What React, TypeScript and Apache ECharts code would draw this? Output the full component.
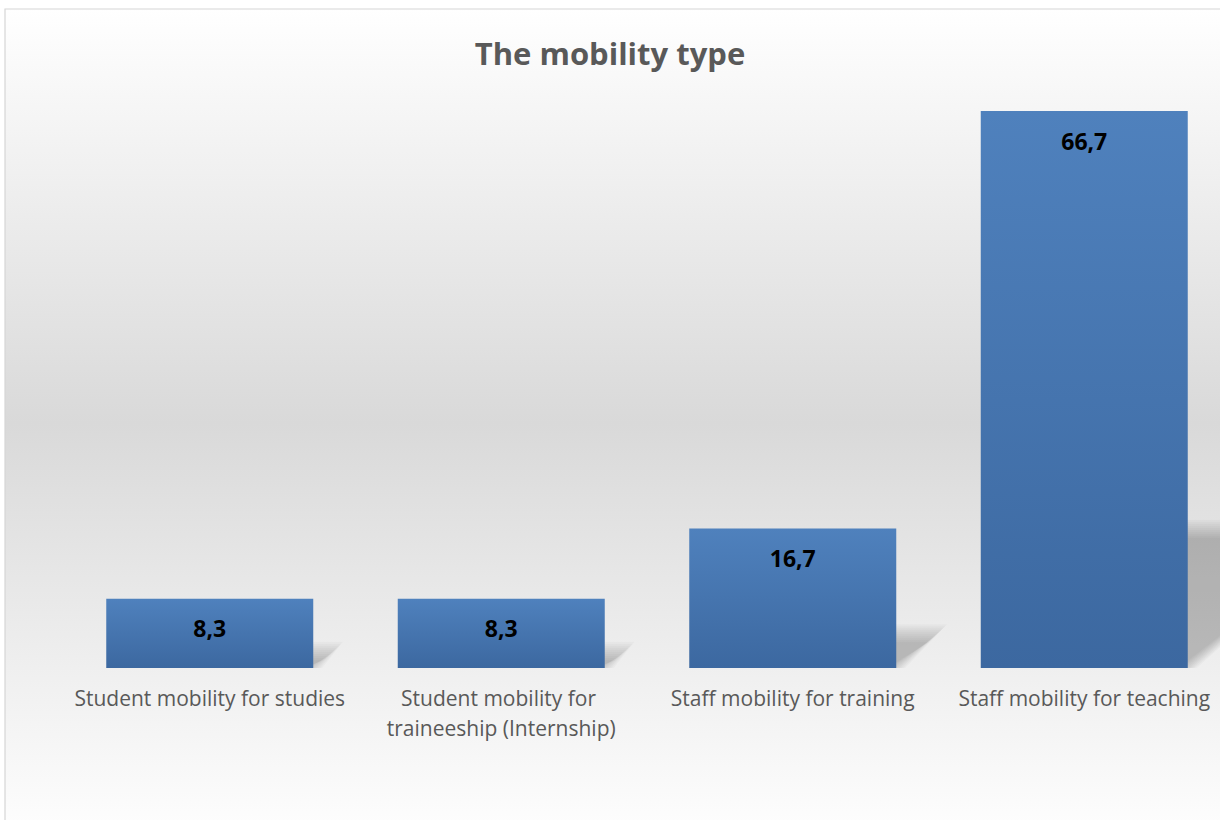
import React, { useEffect, useRef } from "react";
import * as echarts from "echarts";

const categories = [
  "Student mobility for studies",
  "Student mobility for traineeship (Internship)",
  "Staff mobility for training",
  "Staff mobility for teaching",
];
const values = [8.3, 8.3, 16.7, 66.7];
const titleText = "The mobility type";

export default function App() {
  const ref = useRef<HTMLDivElement>(null);
  useEffect(() => {
    document.body.style.margin = "0";
    const chart = echarts.init(ref.current!, null, { renderer: "svg" });
    const barW = 207;
    chart.setOption({
      animation: false,
      title: {
        text: titleText,
        left: "center",
        top: 37,
        padding: 0,
        textStyle: { fontFamily: "Open Sans", fontWeight: "bold", fontSize: 31, color: "#595959" },
      },
      graphic: [
        {
          type: "rect",
          z: -10,
          silent: true,
          shape: { x: 5, y: 9, width: 1300, height: 900 },
          style: {
            stroke: "#d6d6d6",
            lineWidth: 1.2,
            fill: new echarts.graphic.LinearGradient(0, 0, 0, 1, [
              { offset: 0, color: "#ffffff" },
              { offset: 0.46, color: "#d9d9d9" },
              { offset: 0.93, color: "#ffffff" },
              { offset: 1, color: "#ffffff" },
            ]),
          },
        },
      ],
      grid: {
        left: 64,
        width: 1166,
        top: 83.5,
        bottom: 152,
        containLabel: false,
        outerBoundsMode: "none",
      },
      xAxis: {
        type: "category",
        data: categories,
        axisLine: { show: false },
        axisTick: { show: false },
        axisLabel: {
          interval: 0,
          margin: 15,
          fontFamily: "Open Sans",
          fontSize: 21,
          lineHeight: 30,
          color: "#595959",
          width: 290,
          overflow: "break",
        },
      },
      yAxis: {
        type: "value",
        min: 0,
        max: 70,
        show: false,
        splitLine: { show: false },
      },
      series: [
        {
          type: "custom",
          z: 1,
          silent: true,
          clip: false,
          data: values.map((v, i) => [i, v]),
          renderItem: (params: any, api: any) => {
            const idx = api.value(0);
            const v = api.value(1);
            const top = api.coord([idx, v]);
            const base = api.coord([idx, 0]);
            const x0 = base[0] - barW / 2;
            const x1 = base[0] + barW / 2;
            const yb = base[1];
            const h = yb - top[1];
            const k = 0.3;
            const s = 0.25;
            const children: any[] = [];
            for (let e = -9; e <= 9; e += 2) {
              children.push({
                type: "polygon",
                shape: {
                  points: [
                    [x0, yb],
                    [x1 + e, yb],
                    [x1 + k * h + e, yb - s * h - e],
                    [x0 + k * h, yb - s * h - e],
                  ],
                },
                style: { fill: "rgba(0,0,0,0.025)" },
              });
            }
            return { type: "group", children };
          },
        },
        {
          type: "bar",
          z: 3,
          data: values,
          barWidth: barW,
          itemStyle: {
            color: new echarts.graphic.LinearGradient(0, 0, 0, 1, [
              { offset: 0, color: "#4f81bd" },
              { offset: 1, color: "#3c68a0" },
            ]),
          },
          label: {
            show: true,
            position: "insideTop",
            distance: 18,
            formatter: (p: any) => String(p.value).replace(".", ","),
            fontFamily: "Open Sans",
            fontWeight: "bold",
            fontSize: 23,
            color: "#000000",
          },
        },
      ],
    });
    return () => chart.dispose();
  }, []);
  return <div ref={ref} style={{ width: 1220, height: 820 }} />;
}
